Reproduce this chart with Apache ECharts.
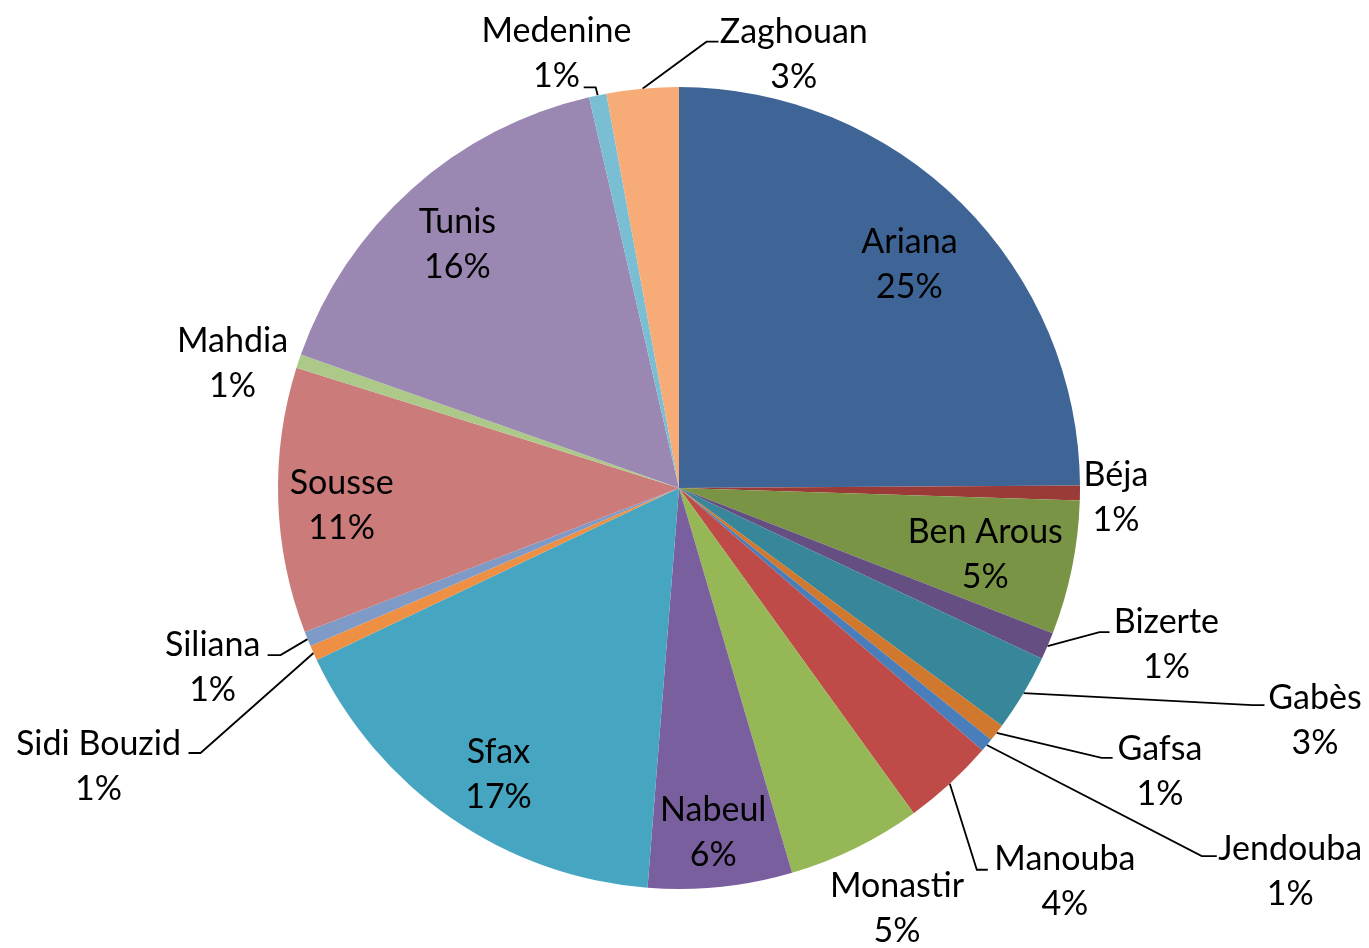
<!DOCTYPE html>
<html>
<head>
<meta charset="utf-8">
<title>Répartition par gouvernorat</title>
<script src="https://cdn.jsdelivr.net/npm/echarts@6/dist/echarts.min.js"></script>
<style>
    html, body { margin: 0; padding: 0; background: #fff; }
    #main { width: 1369px; height: 948px; }
</style>
</head>
<body>
<div id="main"></div>
<script>
    // data, clockwise from 12 o'clock
    var regions = ['Ariana', 'Béja', 'Ben Arous', 'Bizerte', 'Gabès', 'Gafsa', 'Jendouba', 'Manouba', 'Monastir',
        'Nabeul', 'Sfax', 'Sidi Bouzid', 'Siliana', 'Sousse', 'Mahdia', 'Tunis', 'Medenine', 'Zaghouan'];
    var shares = [24.9, 0.6, 5.4, 1.1, 3.1, 0.7, 0.55, 3.7, 5.4, 5.8, 16.7, 0.6, 0.6, 10.7, 0.55, 16.0, 0.7, 2.9];
    var insideLabels = ['Ariana', 'Ben Arous', 'Nabeul', 'Sfax', 'Sousse', 'Tunis'];

    var colors = ['#3E6596', '#9B3B38', '#7A9445', '#654F82', '#378699', '#D0782E', '#4A7EBB', '#BE4B48', '#96B755',
        '#7A5F9E', '#46A5C0', '#EE9043', '#7E9BC8', '#CB7C7A', '#ADC98A', '#9A88B3', '#79BED3', '#F7AB77'];

    // outside labels: [line length, length2, text dx from line end, text dy, show line]
    var outside = {
        'Béja': [0, 0, 31, 4.5, false],
        'Bizerte': [10, 50, 54.7, -5.9, true],
        'Gabès': [6, 236, 45.3, 24.1, true],
        'Gafsa': [41.5, 83, 42.4, 13.5, true],
        'Jendouba': [124, 131, 72.3, 46.8, true],
        'Manouba': [74, 0, 60.1, 43.7, true],
        'Monastir': [0, 0, 36.6, 60.9, false],
        'Sidi Bouzid': [55, 0, -159.9, 90.4, true],
        'Siliana': [25, 16, -50.8, 19.2, true],
        'Mahdia': [0, 0, -61.1, 2.9, false],
        'Medenine': [7.5, 13, -21.7, -34, true],
        'Zaghouan': [47, -80, 80.6, 12.2, true]
    };
    // leader line shape from the slice edge: [bend dx, bend dy, end stub]
    var bends = {
        'Bizerte': [52, -14, 10],
        'Gabès': [229, 12, 12],
        'Gafsa': [105, 25, 11],
        'Jendouba': [215, 111, 15],
        'Manouba': [27, 86, 11],
        'Sidi Bouzid': [-113, 100, -12],
        'Siliana': [-27, 16, -13],
        'Medenine': [-2, -8, -12],
        'Zaghouan': [64, -47, 12]
    };
    // small nudges of the labels inside the big slices: [dx, dy]
    var insideShift = {
        'Ariana': [-2.5, 11],
        'Ben Arous': [-17.5, 1],
        'Nabeul': [0, 15.5],
        'Sfax': [7, 14],
        'Sousse': [-7, 7.5],
        'Tunis': [-1.5, 3]
    };

    var txt = {
        fontFamily: 'Lato, "Open Sans", sans-serif',
        fontSize: 34,
        lineHeight: 45,
        color: '#000',
        align: 'center'
    };

    function fmt(p) {
        return '{t|' + p.name + '}\n{t|' + Math.round(p.percent) + '%}';
    }

    var total = shares.reduce(function (a, b) { return a + b; }, 0);
    var cum = 0;
    var pieData = [];
    var labelData = [];
    for (var i = 0; i < regions.length; i++) {
        var name = regions[i];
        var mid = (cum + shares[i] / 2) / total * 2 * Math.PI;
        cum += shares[i];
        var right = Math.sin(mid) > 0;
        var item = { name: name, value: shares[i], itemStyle: { color: colors[i] } };
        var o = outside[name];
        if (o) {
            var dx = o[2], dy = o[3];
            var pt = dy > 0 ? 2 * dy : 0, pb = dy < 0 ? -2 * dy : 0;
            var pl = right ? dx - 0.5 : 0, pr = right ? 0 : -dx - 0.5;
            item.label = { show: true, padding: [pt, pr, pb, pl] };
            item.labelLine = { show: o[4], length: o[0], length2: o[1] };
        } else {
            item.label = { show: false };
            item.labelLine = { show: false };
        }
        pieData.push(item);

        var s = insideShift[name];
        var lab = { show: !!s };
        if (s) {
            lab.padding = [s[1] > 0 ? 2 * s[1] : 0, s[0] < 0 ? -2 * s[0] : 0,
                s[1] < 0 ? -2 * s[1] : 0, s[0] > 0 ? 2 * s[0] : 0];
        }
        labelData.push({ name: name, value: shares[i], label: lab });
    }

    var myChart = echarts.init(document.getElementById('main'));
    var option = {
        backgroundColor: '#fff',
        animation: false,
        series: [
            {
                type: 'pie',
                center: [679, 488],
                radius: 401,
                startAngle: 90,
                clockwise: true,
                avoidLabelOverlap: false,
                silent: true,
                emphasis: { disabled: true },
                label: {
                    position: 'outside',
                    formatter: fmt,
                    rich: { t: txt },
                    overflow: 'none',
                    width: 1,
                    distanceToLabelLine: 5
                },
                labelLine: {
                    minTurnAngle: 0,
                    maxSurfaceAngle: 180,
                    lineStyle: { color: '#000', width: 1.8 }
                },
                labelLayout: function (params) {
                    var b = bends[regions[params.dataIndex]];
                    if (!b || !params.labelLinePoints) {
                        return {};
                    }
                    var p0 = params.labelLinePoints[0];
                    var p1 = [p0[0] + b[0], p0[1] + b[1]];
                    return { labelLinePoints: [p0, p1, [p1[0] + b[2], p1[1]]] };
                },
                data: pieData
            },
            {
                // transparent copy, only used to put the big slice labels further out
                type: 'pie',
                center: [679, 488],
                radius: 655,
                startAngle: 90,
                clockwise: true,
                avoidLabelOverlap: false,
                silent: true,
                emphasis: { disabled: true },
                itemStyle: { color: 'rgba(0,0,0,0)' },
                label: {
                    position: 'inside',
                    formatter: fmt,
                    rich: { t: txt }
                },
                labelLine: { show: false },
                data: labelData
            }
        ]
    };
    myChart.setOption(option);
</script>
</body>
</html>
